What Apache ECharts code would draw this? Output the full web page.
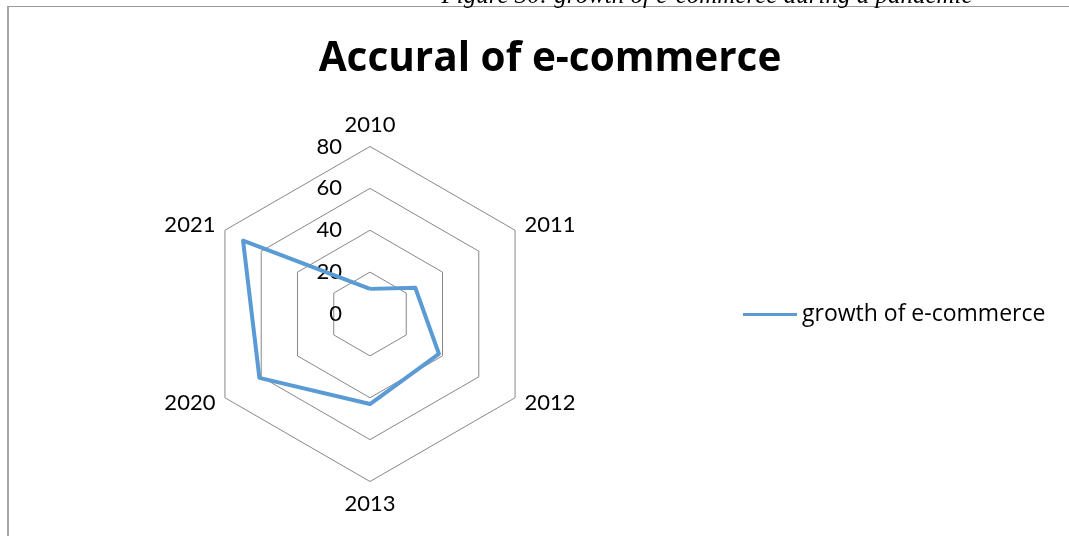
<!DOCTYPE html>
<html>
<head>
<meta charset="utf-8">
<script src="https://cdn.jsdelivr.net/npm/echarts@6/dist/echarts.min.js"></script>
<style>
  html, body { margin: 0; padding: 0; background: #fff; }
  #wrap { position: relative; width: 1069px; height: 536px; overflow: hidden; }
  #frame {
    position: absolute; left: 7px; top: 6px; right: -2px; bottom: -2px;
    border-left: 2px solid #a6a6a6; border-top: 1px solid #999;
  }
  #chart { position: absolute; left: 0; top: 0; width: 1069px; height: 536px; }
</style>
</head>
<body>
<div id="wrap">
  <div id="frame"></div>
  <div id="chart"></div>
</div>
<script>
// 数据
const years = ['2010', '2011', '2012', '2013', '2020', '2021']
const growth = [12, 25, 38, 43, 61, 70]
const axisMax = 80
const seriesName = 'growth of e-commerce'

// radar goes counter-clockwise, Excel goes clockwise
const order = [0, 5, 4, 3, 2, 1]

const chart = echarts.init(document.getElementById('chart'))

const indicator = order.map((i, k) => {
  const ind = { name: years[i], min: 0, max: axisMax }
  if (k === 0) {
    // 只在第一根轴上显示刻度
    ind.axisLabel = {
      show: true,
      color: '#000',
      fontSize: 22,
      fontFamily: 'Lato',
      margin: 28,
    }
  }
  return ind
})

const option = {
  animation: false,
  title: [
    {
      text: 'Accural of e-commerce',
      left: 545,
      textAlign: 'center',
      top: 34,
      textStyle: { fontFamily: 'Open Sans', fontWeight: 'bold', fontSize: 40.5, color: '#000' },
    },
    {
      text: 'Figure 30: growth of e-commerce during a pandemic',
      left: 702,
      textAlign: 'center',
      top: -21,
      textStyle: {
        fontFamily: 'Liberation Serif', fontStyle: 'italic', fontWeight: 'normal',
        fontSize: 25, color: '#000',
      },
    },
  ],
  legend: {
    left: 738,
    top: 298,
    orient: 'vertical',
    itemWidth: 54,
    itemHeight: 3,
    itemGap: 0,
    textStyle: { fontFamily: 'Open Sans', fontSize: 23, color: '#000', padding: [0, 0, 0, 0] },
    data: [{ name: seriesName, icon: 'rect' }],
  },
  radar: {
    center: [370, 314],
    radius: 167.5,
    startAngle: 90,
    shape: 'polygon',
    splitNumber: 4,
    nameGap: 11,
    axisName: { color: '#000', fontSize: 22, fontFamily: 'Lato' },
    axisLine: { show: false },
    axisTick: { show: false },
    axisLabel: { show: false },
    splitArea: { show: false },
    splitLine: { lineStyle: { color: '#878787', width: 1 } },
    indicator: indicator,
  },
  series: [
    {
      name: seriesName,
      type: 'radar',
      symbol: 'none',
      lineStyle: { color: '#5b9bd5', width: 4 },
      itemStyle: { color: '#5b9bd5' },
      data: [{ value: order.map((i) => growth[i]), name: seriesName }],
    },
  ],
}

chart.setOption(option)
</script>
</body>
</html>
